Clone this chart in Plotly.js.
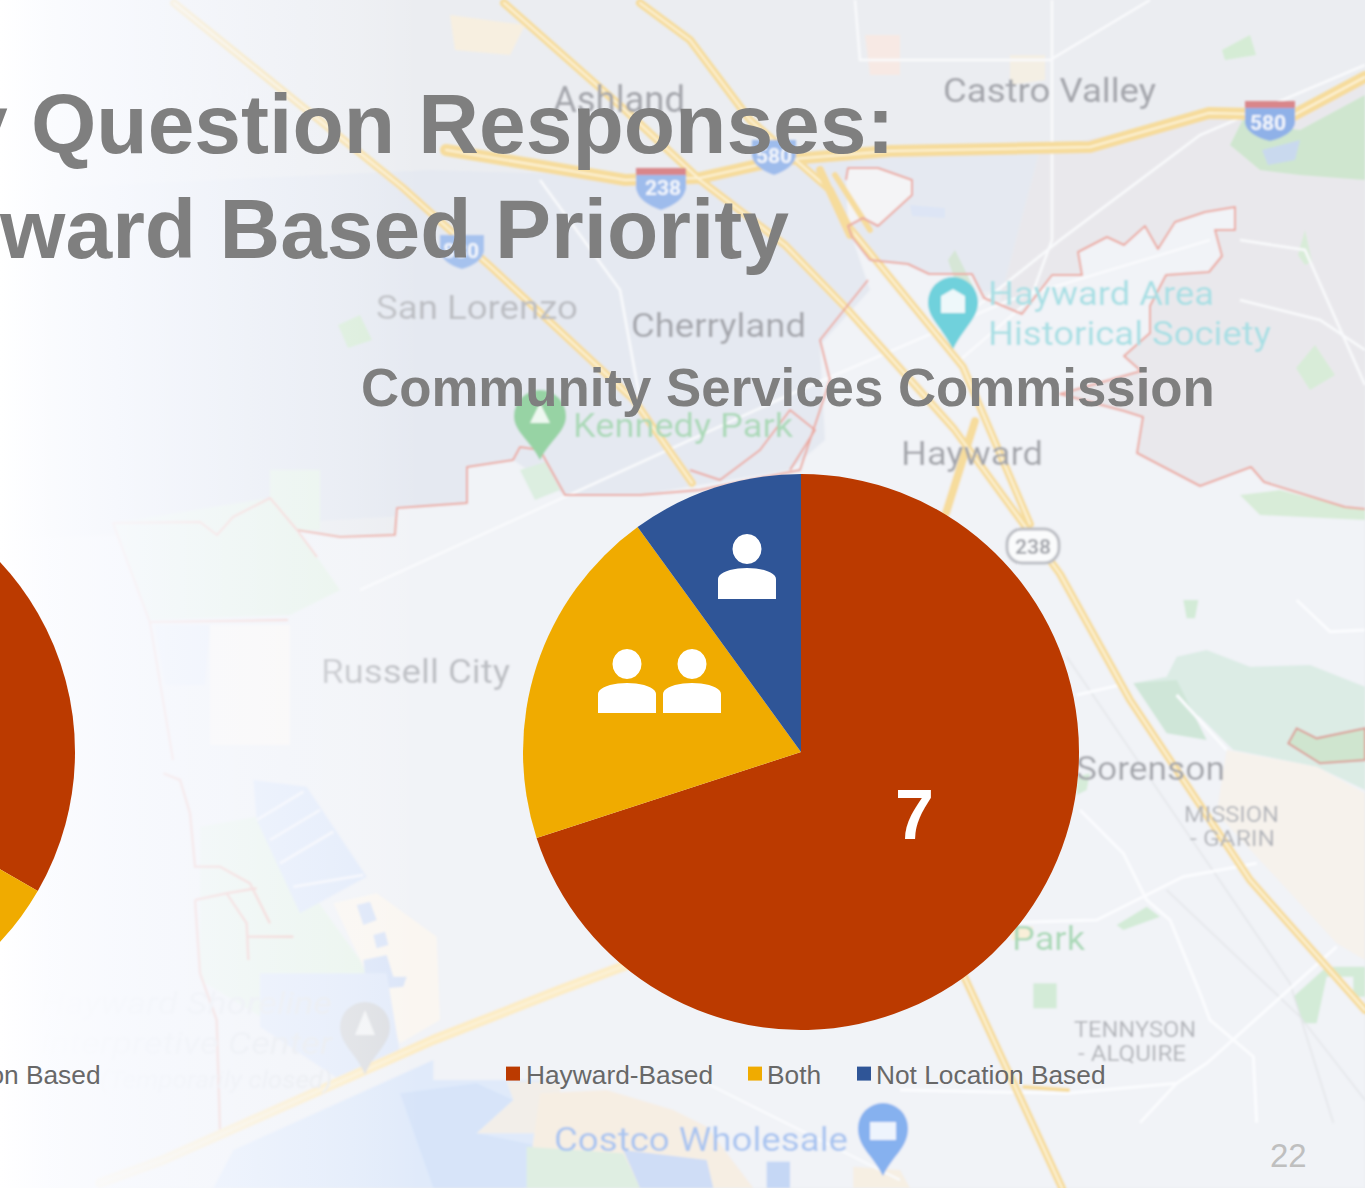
<!DOCTYPE html>
<html><head><meta charset="utf-8">
<script src="https://cdn.plot.ly/plotly-3.0.1.min.js"></script>
<style>
html,body{margin:0;padding:0;background:#fff;overflow:hidden}
#stage{position:relative;width:1365px;height:1188px;overflow:hidden}
#map{position:absolute;left:0;top:0}
#plot{position:absolute;left:-600px;top:0;width:1965px;height:1188px}
#map text{font-family:Roboto,sans-serif}
#map polyline,#map polygon{vector-effect:non-scaling-stroke}
</style></head><body>
<div id="stage">
<svg id="map" width="1365" height="1188" viewBox="0 0 1365 1188">
<defs>
<filter id="b" x="-5%" y="-5%" width="110%" height="110%"><feGaussianBlur stdDeviation="1"/></filter>
<linearGradient id="fade" x1="0" x2="1" y1="0" y2="0">
<stop offset="0" stop-color="#fff" stop-opacity="1"/><stop offset=".12" stop-color="#fbfcff" stop-opacity=".96"/><stop offset=".35" stop-color="#f8faff" stop-opacity=".8"/><stop offset=".7" stop-color="#f8faff" stop-opacity=".4"/><stop offset="1" stop-color="#fff" stop-opacity="0"/>
</linearGradient>
</defs>
<rect width="1365" height="1188" fill="#ebedf1"/>
<g filter="url(#b)">
<!-- shaded districts -->
<polygon fill="#e5e9f1" points="0,190 430,170 700,178 891,151 1090,147 1100,215 1000,290 880,300 840,490 0,540"/>
<polygon fill="#e9e8ec" points="1040,150 1209,113 1294,115 1365,77 1365,520 1100,520 1000,300"/>
<!-- Hayward city interior -->
<polygon fill="#f1f3f7" points="852,237 870,260 908,264 929,274 972,274 984,298 1022,314 1052,275 1082,275 1078,252 1107,237 1124,245 1145,226 1158,249 1175,222 1205,212 1235,207 1235,230 1215,230 1222,256 1209,272 1166,275 1150,306 1150,333 1124,356 1141,371 1060,394 1124,411 1143,417 1137,453 1200,486 1251,467 1264,482 1345,507 1365,509 1365,1188 0,1188 0,540 297,530 340,537 395,535 397,508 467,503 467,467 513,460 565,495 640,495 790,470 825,440 820,345 870,290"/>
<polygon fill="#f4f4f6" points="846,180 848,168 878,168 912,180 912,195 878,226 863,218 848,226"/>
<!-- upper tints -->
<polygon fill="#f7efe0" points="450,15 525,25 510,55 455,50"/>
<polygon fill="#f7e9e4" points="865,35 900,35 900,75 870,75"/>
<polygon fill="#f4efe4" points="1010,55 1045,55 1045,80 1010,85"/>
<polygon fill="#dde5f5" points="910,205 945,208 945,218 912,216"/>
<!-- west shoreline land -->
<polygon fill="#e7f3ea" points="113,523 270,498 317,557 340,590 290,615 150,620"/>
<polygon fill="#e7f3ea" points="270,470 320,470 320,530 297,530 270,498"/>
<polygon fill="#e8eef9" points="155,625 210,625 205,685 165,685"/>
<polygon fill="#fbf8f5" points="210,625 290,625 290,745 210,745"/>
<g transform="translate(100 760) scale(.33333)">
<polygon fill="#e9f4ec" points="300,200 470,170 780,600 900,880 780,950 300,660"/>
<polygon fill="#faf6f1" points="700,430 830,400 1010,530 1020,780 900,850"/>
<polygon fill="#e1eafa" points="460,60 620,80 800,350 600,460 470,180"/>
<g fill="none" stroke="#f6f7fb" stroke-width="2.5">
<polyline points="470,180 610,95"/><polyline points="510,240 660,150"/><polyline points="540,310 700,215"/><polyline points="580,380 790,345"/>
</g>
<polygon fill="#dbe5f8" points="770,435 810,425 830,480 790,495"/>
<polygon fill="#dbe5f8" points="820,525 855,515 865,555 830,565"/>
<polygon fill="#dbe5f8" points="790,600 860,585 880,650 920,650 910,680 800,690"/>
<polygon fill="#e3ebfa" points="480,640 860,640 880,760 900,880 720,960 480,800"/>
<polygon fill="#e0eafa" points="340,1284 400,1170 1000,900 1000,960 1380,960 1380,1284"/>
<polygon fill="#d7e4f9" points="900,1000 1130,970 1240,1020 1130,1120 1380,1170 1380,1284 1000,1284"/>
<polygon fill="#f2eee9" points="1220,965 1380,965 1380,1120 1130,1120 1240,1020"/>
<g fill="none" stroke="#f2c8c3" stroke-width="2.5">
<polyline points="190,40 240,60 270,160 285,320 360,320 450,370 510,490"/>
<polyline points="285,420 380,400 470,385"/>
<polyline points="380,400 440,490 445,600"/>
<polyline points="445,530 580,530"/>
<polyline points="285,420 300,640 350,780 360,1110"/>
</g>
</g>
<!-- bay flats below the legend -->
<g transform="translate(540 1030) scale(.33333)">
<polygon fill="#f6eee3" points="0,190 200,180 400,240 500,290 640,474 -40,474"/>
<polygon fill="#dfeee2" points="-40,350 250,370 300,474 -40,474"/>
<polygon fill="#cfddf6" points="250,360 500,390 520,474 300,474"/>
<polygon fill="#c5d7f5" points="680,395 750,395 750,474 680,474"/>
<polygon fill="#f6efe3" points="940,410 1080,420 1110,474 940,474"/>
</g>
<!-- east hills and parks -->
<g transform="translate(900 600) scale(.33333)">
<polygon fill="#dcece5" points="700,250 800,230 830,170 920,150 1050,200 1230,195 1395,260 1395,570 1250,500 1000,450 900,350"/>
<polygon fill="#cfe6d8" points="700,250 830,240 920,420 800,400"/>
<polygon fill="#f6f2ec" points="980,450 1250,500 1395,580 1395,1080 1310,1030 950,640"/>
<polygon fill="#cfe5cf" stroke="#dc9e97" stroke-width="2" points="1165,430 1190,385 1250,415 1395,385 1395,480 1260,490"/>
<polygon fill="#d3ebd7" points="650,975 740,920 780,950 670,990"/>
<polygon fill="#d3ebd7" points="400,1150 470,1150 470,1225 400,1225"/>
<polygon fill="#d3ebd7" points="1180,1190 1280,1100 1395,1100 1395,1190 1360,1190 1360,1130 1280,1130 1250,1270 1210,1270"/>
<polygon fill="#d3ebd7" points="850,0 895,0 885,55 860,55"/>
<polygon fill="#d6ecd9" points="530,530 570,520 560,570 530,585"/>
<polygon fill="#f9efd9" points="330,980 400,980 385,1020 335,1020"/>
<g fill="none" stroke="#e3e5e9" stroke-width="1.5">
<polyline points="500,170 1170,1150 1300,1568"/>
<polyline points="800,870 1200,1250 1395,1500"/>
</g>
<g fill="none" stroke="#fbfcfe" stroke-width="3">
<polyline points="530,285 660,255"/>
<polyline points="540,630 670,760 740,900 810,960 900,1180 930,1260 1060,1370 1070,1568"/>
<polyline points="260,970 590,960 850,830 1070,790"/>
<polyline points="1310,1040 920,1390 830,1450 500,1480 0,1470"/>
<polyline points="720,1568 830,1450"/>
<polyline points="1190,0 1290,95 1395,90"/>
<polyline points="830,285 980,450"/>
</g>
</g>
<polygon fill="#cfe6cf" points="1230,145 1245,115 1262,125 1300,130 1365,95 1365,180 1300,175 1260,170"/>
<polygon fill="#c9d9ee" points="1262,150 1300,140 1295,160 1268,165"/>
<polygon fill="#d5ecd5" points="1222,50 1250,35 1256,55 1225,60"/>
<polygon fill="#d8ecd8" points="1296,368 1315,345 1335,375 1310,390"/>
<polygon fill="#d8ecd8" points="1298,255 1305,230 1312,262 1305,265"/>
<polygon fill="#d8ecd8" points="1240,495 1280,490 1345,507 1365,509 1365,520 1260,515"/>
<polygon fill="#d8ecd8" points="338,325 360,315 372,340 348,348"/>
<polygon fill="#dceee0" points="520,470 545,462 560,490 535,500"/>
<polygon fill="#d6e6d6" points="955,250 975,290 960,295 948,260"/>
<!-- white local roads -->
<g fill="none" stroke="#f9fafc" stroke-width="2.5">
<polyline points="1052,0 1052,240 1030,300 960,360"/>
<polyline points="1365,65 1200,135 1060,240 960,320"/>
<polyline points="855,0 860,60 1050,60 1150,0"/>
<polyline points="1240,240 1305,250 1365,385"/>
<polyline points="1240,300 1320,320 1365,350"/>
<polyline points="360,590 800,390 1010,300 1210,240"/>
<polyline points="540,180 620,290 640,400"/>
<polyline points="700,1080 900,1180"/>
</g>
<!-- highways -->
<g fill="none" stroke-linejoin="round" stroke-linecap="round">
<g stroke="#fcecc6" stroke-width="10">
<polyline points="100,1183 163,1160 433,1040 560,990 640,960"/>
</g>
<g stroke="#f6dc9c" stroke-width="8">
<polyline points="174,3 402,187 491,267 634,400 692,483"/>
<polyline points="504,3 625,110 700,180 785,245 848,310 954,429 1060,574 1130,700 1250,880 1365,1010"/>
<polyline points="640,3 690,40 750,120 830,190 848,226 963,367 1030,524"/>
<polyline points="975,421 946,513"/>
<polyline points="950,946 1062,1188"/>
</g>
<polyline points="1365,77 1294,115 1209,113 1090,147 891,151 780,160 700,178 625,180 446,150" stroke="#f6dc9c" stroke-width="12"/>
<g stroke="#fdf3d8" stroke-width="2">
<polyline points="1365,77 1294,115 1209,113 1090,147 891,151 780,160 700,178 625,180 446,150"/>
<polyline points="174,3 402,187 491,267 634,400 692,483"/>
<polyline points="504,3 625,110 700,180 785,245 848,310 954,429 1060,574 1130,700 1250,880 1365,1010"/>
<polyline points="640,3 690,40 750,120 830,190 848,226 963,367 1030,524"/>
<polyline points="950,946 1062,1188"/>
<polyline points="100,1183 163,1160 433,1040 560,990 640,960"/>
</g>
<polyline points="1024,1087 1068,1090" stroke="#f6dc9c" stroke-width="4"/>
<polyline points="820,170 850,235" stroke="#f6dc9c" stroke-width="8"/>
<polyline points="835,175 870,230" stroke="#f6dc9c" stroke-width="6"/>
</g>
<!-- boundary -->
<g fill="none" stroke="#eba9a0" stroke-width="2" stroke-linejoin="round">
<polyline points="846,180 848,168 878,168 912,180 912,195 878,226 863,218 848,226 852,237 870,260 908,264 929,274 972,274 984,298 1022,314 1052,275 1082,275 1078,252 1107,237 1124,245 1145,226 1158,249 1175,222 1205,212 1235,207 1235,230 1215,230 1222,256 1209,272 1166,275 1150,306 1150,333 1124,356 1141,371 1060,394 1124,411 1143,417 1137,453 1200,486 1251,467 1264,482 1345,507 1365,509"/>
<polyline points="868,280 820,340 830,380 800,470 700,490 640,495 565,495 540,450 520,447 513,460 467,467 467,503 397,508 395,535 340,537 297,530"/>
<polyline stroke="#f4ccc8" points="297,530 270,498 233,517 217,535 200,522 113,523 150,623 173,760"/>
<polyline stroke="#f4ccc8" points="150,622 288,620"/>
<polyline stroke="#f4ccc8" points="297,530 317,557"/>
<polyline points="690,470 720,480 760,450 790,410 815,430 790,470"/>
</g>
<!-- pins and shields -->
<g>
<path d="M953 349 C940 325 928 318 928 302 A25 25 0 0 1 978 302 C978 318 966 325 953 349Z" fill="#6fd1dc"/>
<path d="M941 296 l12 -7 l12 7 v17 h-24Z" fill="#eef8fa"/>
<path d="M540 460 C530 440 514 432 514 416 A26 26 0 0 1 566 416 C566 432 550 440 540 460Z" fill="#97d3a4"/>
<path d="M540 403 l10 20 h-20Z" fill="#eef8f0"/>
<path d="M883 1176 C873 1155 858 1148 858 1128 A25 25 0 0 1 908 1128 C908 1148 893 1155 883 1176Z" fill="#86b1ef"/>
<rect x="870" y="1122" width="26" height="18" fill="#eef4fd"/>
<path d="M365 1075 C358 1055 340 1045 340 1027 A25 25 0 0 1 390 1027 C390 1045 372 1055 365 1075Z" fill="#dcdee2"/>
<path d="M365 1010 l10 25 h-20Z" fill="#f3f4f6"/>
<path d="M636 170 h50 v18 q-2 14 -25 22 q-23 -8 -25 -22Z" fill="#9ebcec"/><rect x="636" y="168" width="50" height="7" fill="#d9868a"/>
<path d="M752 140 h44 v16 q-2 12 -22 19 q-20 -7 -22 -19Z" fill="#9ebcec"/>
<path d="M1245 105 h50 v18 q-2 12 -25 18 q-23 -6 -25 -18Z" fill="#8fb1e8"/><rect x="1245" y="101" width="50" height="7" fill="#d9868a"/>
<path d="M440 235 h44 v16 q-2 12 -22 18 q-20 -6 -22 -18Z" fill="#a6c2ee"/>
<rect x="1007" y="529" width="52" height="34" rx="15" fill="#fafbfc" stroke="#bcbec4" stroke-width="3"/>
</g>
<!-- labels -->
<g fill="#a4a6ac">
<text x="553" y="112" font-size="36" textLength="132" lengthAdjust="spacingAndGlyphs">Ashland</text>
<text x="943" y="102" font-size="34" textLength="213" lengthAdjust="spacingAndGlyphs">Castro Valley</text>
<text x="376" y="319" font-size="33" textLength="202" lengthAdjust="spacingAndGlyphs" fill="#bcbec3">San Lorenzo</text>
<text x="631" y="337" font-size="34" textLength="175" lengthAdjust="spacingAndGlyphs">Cherryland</text>
<text x="901" y="465" font-size="34" textLength="142" lengthAdjust="spacingAndGlyphs">Hayward</text>
<text x="321" y="683" font-size="34" textLength="189" lengthAdjust="spacingAndGlyphs" fill="#bcbec3">Russell City</text>
<text x="1076" y="780" font-size="34" textLength="149" lengthAdjust="spacingAndGlyphs">Sorenson</text>
<text x="1184" y="822" font-size="22" textLength="95" lengthAdjust="spacingAndGlyphs" fill="#b4b6bb">MISSION</text>
<text x="1190" y="846" font-size="22" textLength="85" lengthAdjust="spacingAndGlyphs" fill="#b4b6bb">- GARIN</text>
<text x="1074" y="1037" font-size="22" textLength="122" lengthAdjust="spacingAndGlyphs" fill="#b4b6bb">TENNYSON</text>
<text x="1078" y="1061" font-size="22" textLength="108" lengthAdjust="spacingAndGlyphs" fill="#b4b6bb">- ALQUIRE</text>
<text x="98" y="100" font-size="20" textLength="152" lengthAdjust="spacingAndGlyphs" fill="#eceef2">WASHINGTON</text>
<g fill="#a8dfe4">
<text x="988" y="305" font-size="34" textLength="226" lengthAdjust="spacingAndGlyphs">Hayward Area</text>
<text x="988" y="345" font-size="34" textLength="283" lengthAdjust="spacingAndGlyphs">Historical Society</text>
</g>
<g fill="#abd9b8">
<text x="573" y="437" font-size="34" textLength="220" lengthAdjust="spacingAndGlyphs">Kennedy Park</text>
<text x="1012" y="950" font-size="34" textLength="73" lengthAdjust="spacingAndGlyphs">Park</text>
</g>
<text x="554" y="1151" font-size="34" textLength="294" lengthAdjust="spacingAndGlyphs" fill="#a9c4f0">Costco Wholesale</text>
<g fill="#e6e9ee" font-style="italic">
<text x="40" y="1014" font-size="32" textLength="292" lengthAdjust="spacingAndGlyphs">Hayward Shoreline</text>
<text x="40" y="1054" font-size="32" textLength="292" lengthAdjust="spacingAndGlyphs">Interpretive Center</text>
<text x="100" y="1088" font-size="24" textLength="232" lengthAdjust="spacingAndGlyphs">(Temporarily closed)</text>
</g>
<g fill="#f3f6fc" font-size="21" font-weight="bold">
<text x="645" y="195">238</text><text x="756" y="163">580</text><text x="1250" y="130">580</text><text x="443" y="258">880</text>
</g>
<text x="1015" y="554" font-size="21" font-weight="bold" fill="#a6a8ae">238</text>
</g>
</g>
<rect width="420" height="1188" fill="url(#fade)"/>
</svg>
<div id="plot"></div>
</div>
<script>
// Chart values
var categories = ['Hayward-Based', 'Both', 'Not Location Based'];
var commissionValues = [7, 2, 1];
var councilValues = [3, 5, 1];
var sliceColors = ['#BB3A00', '#F0AB00', '#2F5597'];
var chartTitle = 'Survey Question Responses:';
var chartTitleLine2 = 'Hayward Based Priority';
var pieTitle = 'Community Services Commission';
var pageNumber = '22';

var W = 1965, H = 1188, OFF = 600;
function px(x){ return (x + OFF) / W; }
function py(y){ return 1 - y / H; }
function domain(cx, cy, r){ return {x:[px(cx-r), px(cx+r)], y:[py(cy+r), py(cy-r)]}; }

function pieTrace(values, dom){
  return {type:'pie', labels:categories, values:values, sort:false, direction:'clockwise', rotation:0,
    domain:dom, marker:{colors:sliceColors, line:{width:0}}, textinfo:'none',
    hoverinfo:'label+value', showlegend:true};
}
function pt(x,y){ return px(x).toFixed(5)+','+py(y).toFixed(5); }
function person(cx, headY, bodyTop, bodyBottom, half){
  var n = 20, d = '', i, a;
  for(i=0;i<=n;i++){ a = 2*Math.PI*i/n; d += (i?'L':'M')+pt(cx+14.5*Math.cos(a), headY+15*Math.sin(a)); }
  d += 'Z M'+pt(cx-half,bodyBottom)+' L'+pt(cx-half,bodyTop+11);
  for(i=1;i<n;i++){ a = Math.PI*i/n; d += ' L'+pt(cx-half*Math.cos(a), bodyTop+11-11*Math.sin(a)); }
  d += ' L'+pt(cx+half,bodyTop+11)+' L'+pt(cx+half,bodyBottom)+' Z';
  return {type:'path', xref:'paper', yref:'paper', path:d, fillcolor:'#fff', line:{width:0}, layer:'above'};
}
var layout = {
  width:W, height:H, margin:{l:0,r:0,t:0,b:0},
  paper_bgcolor:'rgba(0,0,0,0)', plot_bgcolor:'rgba(0,0,0,0)',
  title:{text:chartTitle, x:px(311), xanchor:'center', xref:'paper', y:py(124), yref:'paper', yanchor:'middle',
    font:{family:'Liberation Sans', size:84, color:'#7F7F7F', weight:'bold'}},
  legend:{orientation:'h', x:px(495), xanchor:'left', y:py(1074), yanchor:'middle',
    font:{family:'Liberation Sans', size:26.3, color:'#686868'}, bgcolor:'rgba(0,0,0,0)', itemwidth:30, traceorder:'normal', itemclick:false, itemdoubleclick:false},
  annotations:[
    {text:chartTitleLine2, xref:'paper', yref:'paper', x:px(317), y:py(229), xanchor:'center', yanchor:'middle', showarrow:false,
      font:{family:'Liberation Sans', size:84, color:'#7F7F7F', weight:'bold'}},
    {text:pieTitle, xref:'paper', yref:'paper', x:px(787.5), y:py(388), xanchor:'center', yanchor:'middle', showarrow:false,
      font:{family:'Liberation Sans', size:52.8, color:'#7F7F7F', weight:'bold'}},
    {text:categories[2], xref:'paper', yref:'paper', x:px(103), y:py(1075), xanchor:'right', yanchor:'middle', showarrow:false,
      font:{family:'Liberation Sans', size:26.3, color:'#686868'}},
    {text:String(commissionValues[0]), xref:'paper', yref:'paper', x:px(914), y:py(815), xanchor:'center', yanchor:'middle', showarrow:false,
      font:{family:'Liberation Sans', size:70, color:'#FFFFFF', weight:'bold'}},
    {text:pageNumber, xref:'paper', yref:'paper', x:px(1288), y:py(1155), xanchor:'center', yanchor:'middle', showarrow:false,
      font:{family:'Liberation Sans', size:33, color:'#BFBFBF'}}
  ],
  shapes:[ person(747,549,568,599,29), person(627,664,683,713,29), person(692,664,683,713,29) ]
};
// Reference legend spacing: swatch left edges and label left edges, in page pixels
var legendSwatchLeft = [506, 748, 857];
var legendTextLeft = [526, 767, 876];
Plotly.newPlot('plot', [
  pieTrace(councilValues, domain(-203,752,278)),
  pieTrace(commissionValues, domain(801,752,278))
], layout, {displayModeBar:false}).then(function(){
  var sb = document.querySelector('#plot .legend .scrollbox');
  if(sb) sb.removeAttribute('clip-path');
  var lg = document.querySelector('#plot .legend');
  if(lg) lg.removeAttribute('clip-path');
  document.querySelectorAll('#plot .legend .traces').forEach(function(tr,i){
    var sw = tr.querySelector('.legendpoints path') , tx = tr.querySelector('.legendtext');
    if(!sw || !tx) return;
    sw.setAttribute('d','M7,7H-7V-7H7Z');
    var m = /translate\(([-\d.]+)[ ,]+([-\d.]+)\)/.exec(tr.getAttribute('transform')||'translate(0,0)');
    var cx = parseFloat(m[1]), cy = parseFloat(m[2]);
    var dx = legendSwatchLeft[i] - sw.getBoundingClientRect().left;
    tr.setAttribute('transform','translate('+(cx+dx)+','+cy+')');
    var ox = parseFloat(tx.getAttribute('x')||'0');
    var dt = legendTextLeft[i] - tx.getBoundingClientRect().left;
    tx.setAttribute('x', ox + dt);
  });
});
</script>
</body></html>
